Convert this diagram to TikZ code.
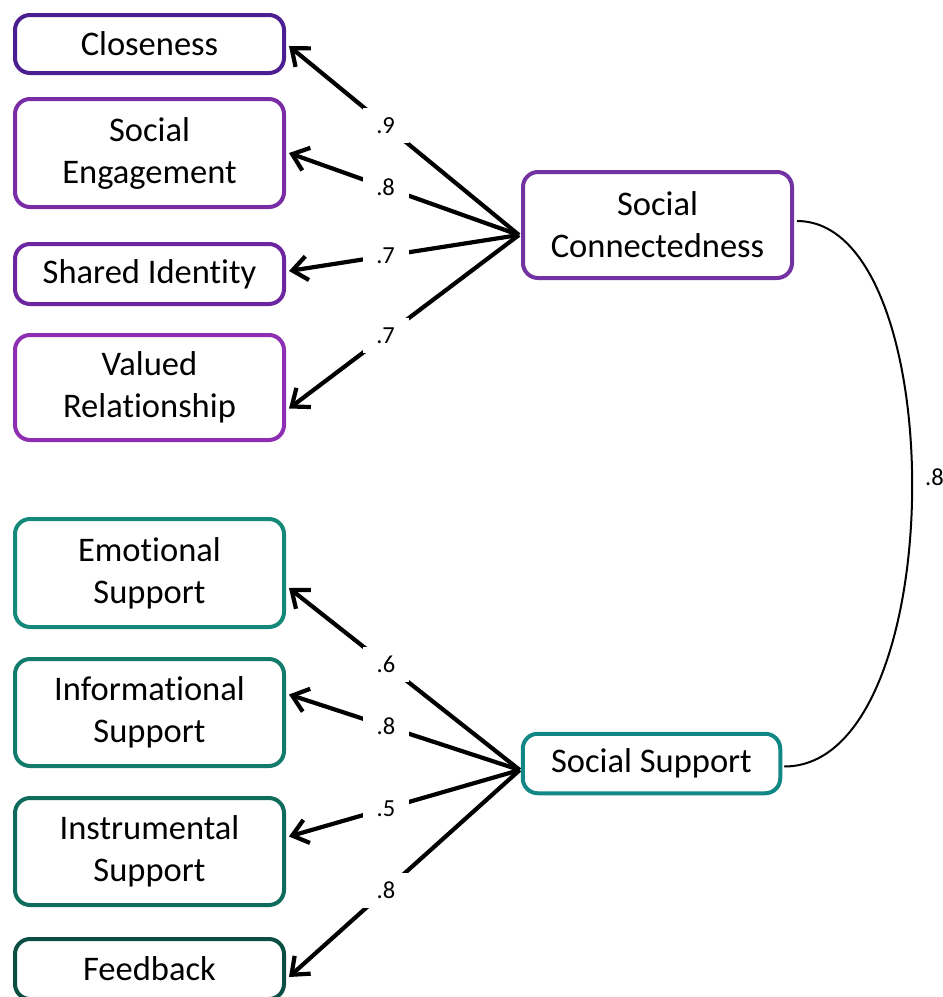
\documentclass[tikz,border=0pt]{standalone}
\usepackage{fontspec}
\setmainfont[Ligatures=NoCommon]{Carlito}
\usetikzlibrary{arrows.meta,calc}
% indicator and factor colours
\definecolor{cClose}{HTML}{4B1E91}
\definecolor{cEngage}{HTML}{7A2BA6}
\definecolor{cShared}{HTML}{6B26A0}
\definecolor{cValued}{HTML}{8E2FB3}
\definecolor{cConn}{HTML}{7232A2}
\definecolor{cEmo}{HTML}{14897A}
\definecolor{cInfo}{HTML}{127B6B}
\definecolor{cInstr}{HTML}{0F6B5C}
\definecolor{cFeed}{HTML}{0B4E43}
\definecolor{cSupp}{HTML}{128886}
\begin{document}
\begin{tikzpicture}[x=1pt,y=-1pt,
  box/.style={draw, line width=4pt, rounded corners=15pt, fill=white,
    align=center, font=\fontsize{34.5}{42}\selectfont,
    minimum width=269pt, inner sep=0pt},
  load/.style={line width=4.2pt, -{Straight Barb[length=15pt,width=24pt]}},
  coef/.style={fill=white, font=\fontsize{24.5}{28}\selectfont,
    minimum width=46pt, minimum height=35pt, inner sep=0pt, pos=0.58}]
\useasboundingbox (0,0) rectangle (943,997);
\clip (0,0) rectangle (943,997);

% social connectedness indicators
\node[box, draw=cClose,  minimum height=58pt]  (clo) at (149.5,44)    {Closeness};
\node[box, draw=cEngage, minimum height=108pt] (eng) at (149.5,153)   {Social\\Engagement};
\node[box, draw=cShared, minimum height=60pt]  (shi) at (149.5,274)   {Shared Identity};
\node[box, draw=cValued, minimum height=105pt] (val) at (149.5,387.5) {Valued\\Relationship};

% social support indicators
\node[box, draw=cEmo,   minimum height=108pt] (emo) at (149.5,573)   {Emotional\\Support};
\node[box, draw=cInfo,  minimum height=107pt] (inf) at (149.5,712.5) {Informational\\Support};
\node[box, draw=cInstr, minimum height=107pt] (ins) at (149.5,851.5) {Instrumental\\Support};
\node[box, draw=cFeed,  minimum height=60pt]  (fee) at (149.5,969)   {Feedback};

% latent factors
\node[box, draw=cConn, minimum height=106pt] (sc) at (657.5,225) {Social\\Connectedness};
\node[box, draw=cSupp, minimum width=257.5pt, minimum height=59.5pt] (ss) at (651.5,763.5) {Social Support};

% loadings
\coordinate (scO) at ($(sc.west)+(-2,10)$);
\draw[load] (scO) -- node[coef]{.9} ($(clo.east)+(3,2)$);
\draw[load] (scO) -- node[coef]{.8} ($(eng.east)+(3,0)$);
\draw[load] (scO) -- node[coef]{.7} ($(shi.east)+(3,-3)$);
\draw[load] (scO) -- node[coef]{.7} ($(val.east)+(3,21)$);

\coordinate (ssO) at ($(ss.west)+(-1,6.5)$);
\draw[load] (ssO) -- node[coef]{.6} ($(emo.east)+(3,15)$);
\draw[load] (ssO) -- node[coef]{.8} ($(inf.east)+(3,-18)$);
\draw[load] (ssO) -- node[coef]{.5} ($(ins.east)+(3,-15)$);
\draw[load] (ssO) -- node[coef]{.8} ($(fee.east)+(3,8)$);

% factor correlation
\draw[line width=2pt] ($(sc.east)+(3,-4)$) .. controls +(156,0) and +(168,0) .. ($(ss.east)+(2,3)$)
  node[pos=0.48, anchor=west, inner sep=0pt, xshift=12pt, font=\fontsize{24.5}{28}\selectfont] {.8};
\end{tikzpicture}
\end{document}
